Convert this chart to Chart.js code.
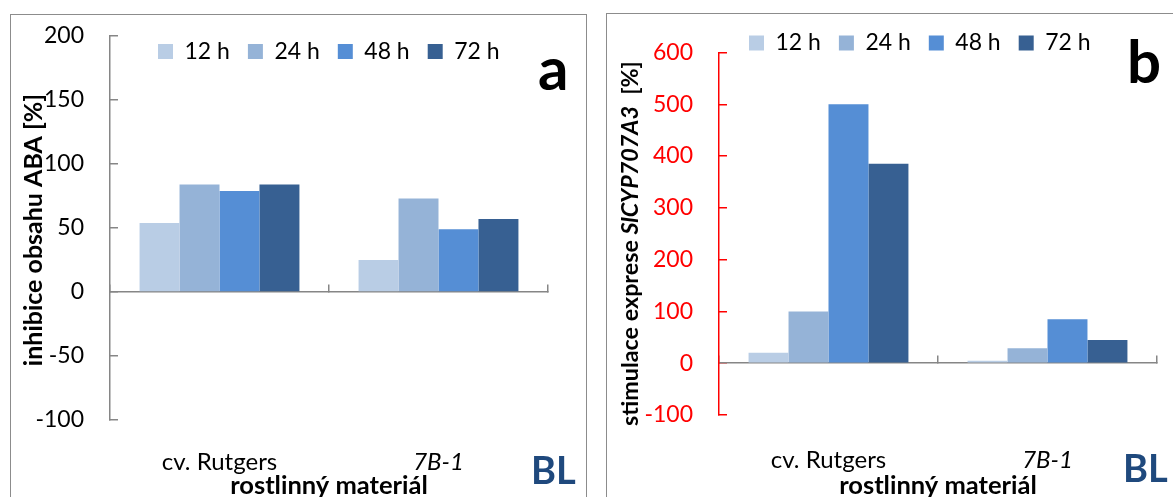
<!DOCTYPE html>
<html>
<head>
<meta charset="utf-8">
<script src="https://cdn.jsdelivr.net/npm/chart.js@4.4.0/dist/chart.umd.min.js"></script>
<style>
    html, body { margin: 0; padding: 0; background: #fff; }
    body { width: 1173px; height: 497px; position: relative; overflow: hidden; font-family: Lato, 'DejaVu Sans', sans-serif; }
    .frame { position: absolute; border: 1px solid #8c8c8c; border-bottom: none; }
    #frameA { left: 10px; top: 14px; width: 575px; height: 500px; }
    #frameB { left: 606px; top: 13px; width: 600px; height: 500px; }
    canvas { position: absolute; top: 0; }
    #chartA { left: 0; }
    #chartB { left: 600px; }
    .tag { position: absolute; font-weight: bold; line-height: 1; white-space: nowrap; }
    .letter { font-size: 60px; color: #000; }
    .bl { font-size: 38px; color: #1F497D; }
</style>
</head>
<body>
<div class="frame" id="frameA"></div>
<div class="frame" id="frameB"></div>
<canvas id="chartA" width="590" height="497"></canvas>
<canvas id="chartB" width="573" height="497"></canvas>
<span class="tag letter" style="left:538px; top:37px;">a</span>
<span class="tag letter" style="left:1127px; top:30px;">b</span>
<span class="tag bl" style="left:531px; top:450px;">BL</span>
<span class="tag bl" style="left:1123px; top:448px;">BL</span>

<script>
// ---- data ----
const categories   = ['cv. Rutgers', '7B-1'];
const seriesNames  = ['12 h', '24 h', '48 h', '72 h'];
const seriesColors = ['#B9CDE5', '#95B3D7', '#558ED5', '#376092'];

// (a) inhibice obsahu ABA [%]
const aba12 = [54, 25];
const aba24 = [84, 73];
const aba48 = [79, 49];
const aba72 = [84, 57];
const abaTicks = [-100, -50, 0, 50, 100, 150, 200];

// (b) stimulace exprese SlCYP707A3 [%]
const cyp12 = [20, 5];
const cyp24 = [100, 29];
const cyp48 = [500, 85];
const cyp72 = [385, 45];
const cypTicks = [-100, 0, 100, 200, 300, 400, 500, 600];

const FONT = "Lato, 'DejaVu Sans', sans-serif";
const GREY = '#868686';
Chart.defaults.font.family = FONT;

// Legend takes no layout space and is pinned inside the plot
const legendPlace = {
    id: 'legendPlace',
    beforeLayout(chart) {
        const l = chart.legend;
        if (!l || l._pinned) return;
        const fit = l.fit;
        l.fit = function () {
            fit.call(this);
            this._fullHeight = this.height;
            this.height = 0;
        };
        l._pinned = true;
    },
    afterLayout(chart, args, opts) {
        const l = chart.legend;
        if (!l) return;
        const pad = l.options.labels.padding;
        l.left = opts.x - pad;
        l.width = 420;
        l.right = l.left + l.width;
        l.top = opts.y - pad - 11.5;
        l.height = l._fullHeight;
        l.bottom = l.top + l.height;
    }
};

// Rotated y title, pieces may be italic (gene names)
const yTitle = {
    id: 'yTitle',
    afterDraw(chart, args, opts) {
        if (!opts.parts) return;
        const ctx = chart.ctx;
        const fontOf = p => `${p.italic ? 'italic ' : ''}bold ${opts.size}px ${FONT}`;
        let total = 0;
        opts.parts.forEach(p => { ctx.font = fontOf(p); total += ctx.measureText(p.text).width; });
        ctx.save();
        ctx.translate(opts.x, opts.y);
        ctx.rotate(-Math.PI / 2);
        ctx.textBaseline = 'middle';
        ctx.textAlign = 'left';
        ctx.fillStyle = '#000';
        let x = -total / 2;
        opts.parts.forEach(p => {
            ctx.font = fontOf(p);
            ctx.fillText(p.text, x, 0);
            x += ctx.measureText(p.text).width;
        });
        ctx.restore();
    }
};

function panel(canvasId, series, o) {
    const datasets = series.map((vals, i) => ({
        label: seriesNames[i],
        data: vals,
        backgroundColor: seriesColors[i],
        borderWidth: 0,
        barPercentage: 1,
        categoryPercentage: 0.73
    }));
    return new Chart(document.getElementById(canvasId), {
        type: 'bar',
        data: { labels: categories, datasets },
        plugins: [legendPlace, yTitle],
        options: {
            responsive: false,
            animation: false,
            layout: { padding: { top: o.top, right: o.right, left: 0, bottom: 0 } },
            plugins: {
                tooltip: { enabled: false },
                legend: {
                    position: 'top',
                    align: 'start',
                    labels: { boxWidth: 15, boxHeight: 15, padding: 18, color: '#000', font: { size: 23 } }
                },
                legendPlace: o.legend,
                yTitle: o.title
            },
            scales: {
                x: {
                    type: 'category',
                    offset: true,
                    grid: { display: false },
                    border: { display: false },
                    ticks: {
                        color: '#000',
                        padding: o.catPad,
                        font: c => ({ size: 24, style: c.index === 1 ? 'italic' : 'normal' })
                    },
                    title: {
                        display: true, text: 'rostlinný materiál', color: '#000',
                        font: { size: 25.5, weight: 'bold', lineHeight: 0.8 },
                        padding: { top: 0, bottom: 1 }
                    },
                    afterFit: s => { s.height = o.xHeight; }
                },
                // zero line with the category dividers
                x0: {
                    type: 'category',
                    axis: 'x',
                    position: { y: 0 },
                    offset: true,
                    ticks: { display: false },
                    grid: { offset: true, drawOnChartArea: false, tickLength: -8, color: GREY, lineWidth: 1.5 },
                    border: { color: GREY, width: 1.5 }
                },
                y: {
                    min: o.ticks[0],
                    max: o.ticks[o.ticks.length - 1],
                    ticks: {
                        stepSize: o.ticks[1] - o.ticks[0],
                        color: o.axisColor === GREY ? '#000' : o.axisColor,
                        padding: 34,
                        font: { size: 23 }
                    },
                    grid: { drawOnChartArea: false, tickLength: -8, color: o.axisColor, lineWidth: 1.5 },
                    border: { color: o.axisColor, width: 1.5 },
                    afterFit: s => {
                        s.width = o.yWidth;
                        // label padding is horizontal only here
                        s.paddingTop = 14;
                        s.paddingBottom = 14;
                    }
                }
            }
        }
    });
}

panel('chartA', [aba12, aba24, aba48, aba72], {
    ticks: abaTicks, axisColor: GREY,
    top: 36, right: 42, yWidth: 110, xHeight: 77, catPad: 20,
    legend: { x: 158, y: 51.5 },
    title: { x: 34, y: 230, size: 25, parts: [{ text: 'inhibice obsahu ABA [%]', italic: false }] }
});

panel('chartB', [cyp12, cyp24, cyp48, cyp72], {
    ticks: cypTicks, axisColor: '#FF0000',
    top: 52.5, right: 16, yWidth: 119, xHeight: 82, catPad: 23,
    legend: { x: 149, y: 43 },
    title: {
        x: 30, y: 243.5, size: 23.3,
        parts: [
            { text: 'stimulace exprese ', italic: false },
            { text: 'SlCYP707A3', italic: true },
            { text: '  [%]', italic: false }
        ]
    }
});
</script>
</body>
</html>
